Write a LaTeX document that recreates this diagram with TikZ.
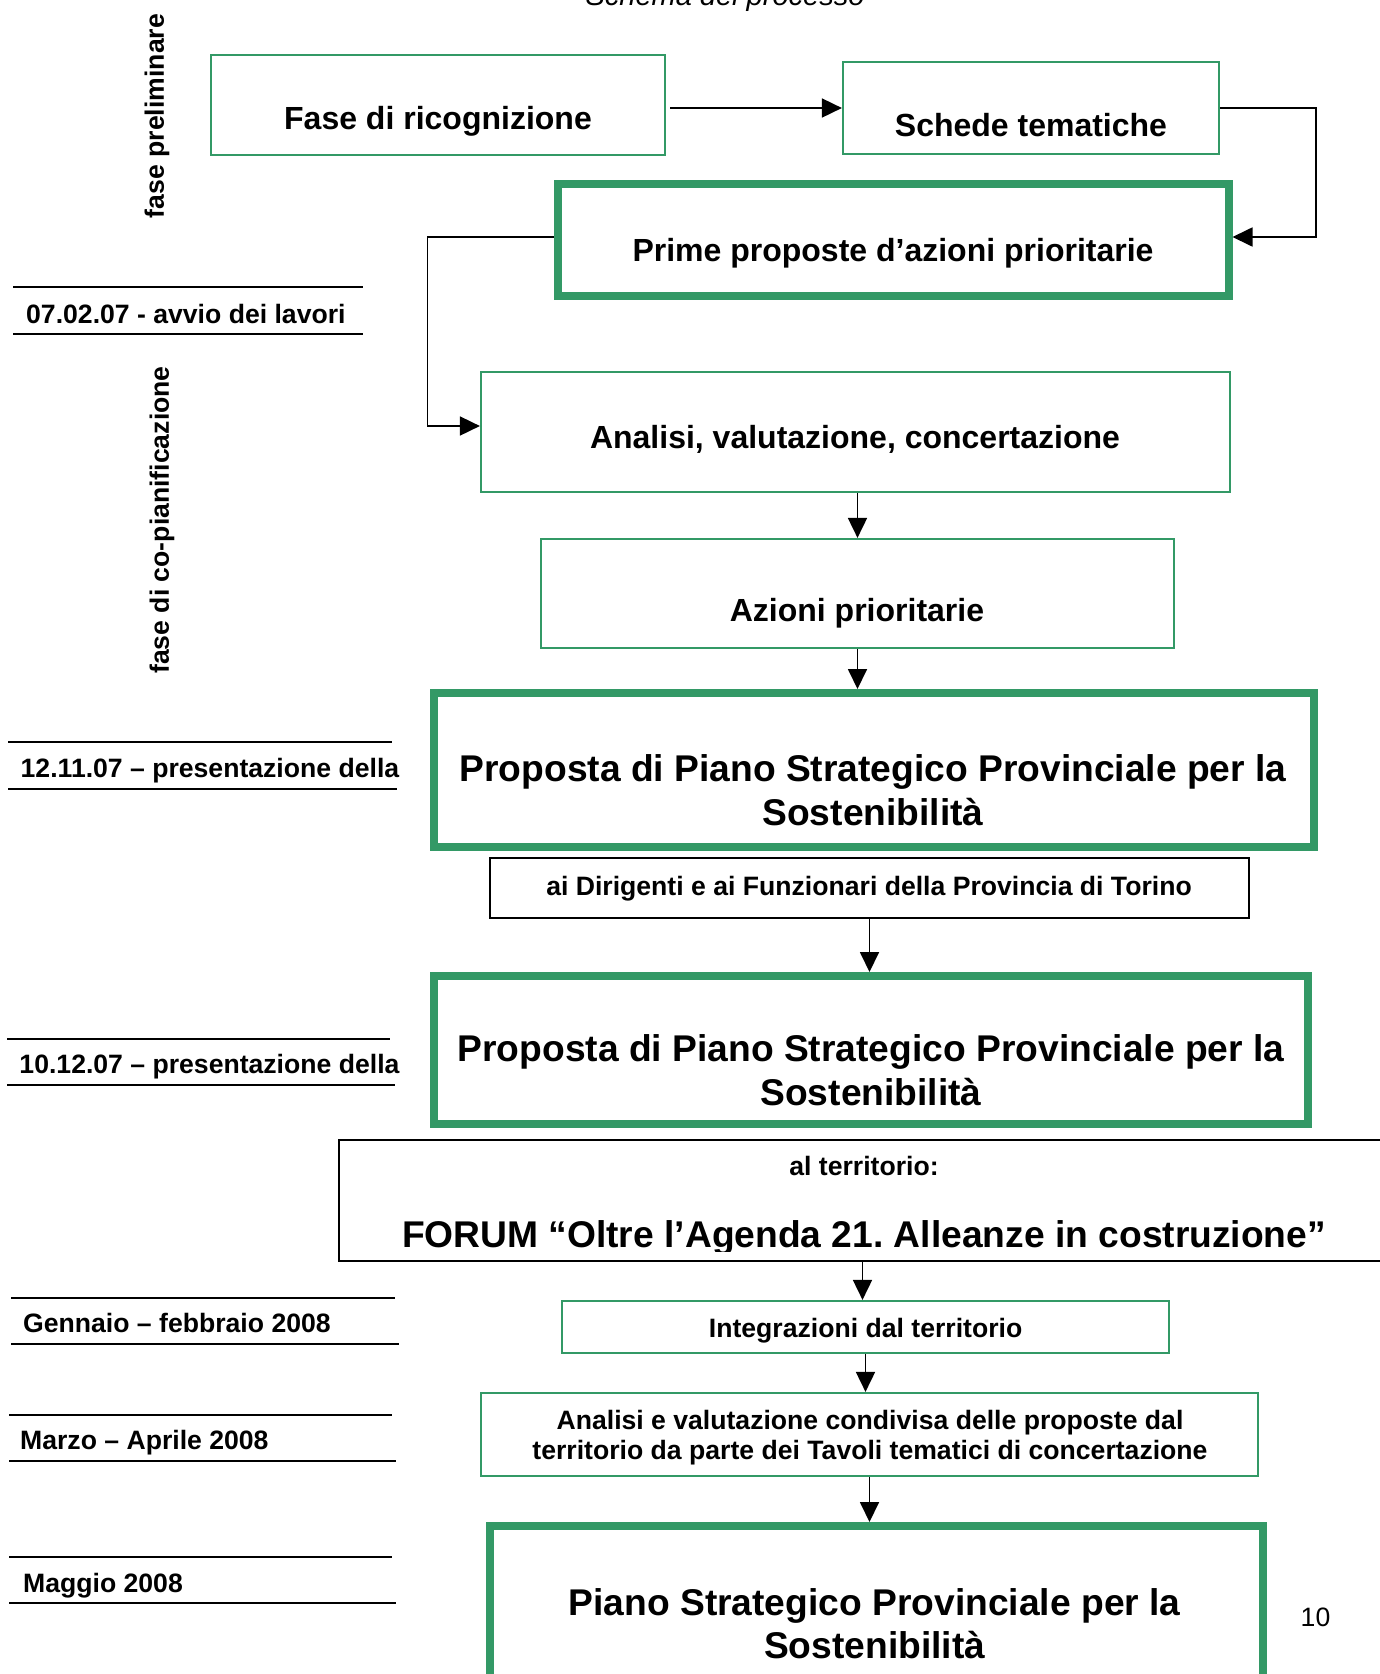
\documentclass[tikz,border=0pt]{standalone}
\usepackage{fontspec}
\setmainfont{Liberation Sans}
\usepackage{tikz}
\usetikzlibrary{arrows.meta}
\definecolor{verde}{RGB}{51,153,102}
\frenchspacing

\begin{document}
\begin{tikzpicture}[>={Triangle[length=20pt,width=19pt]},x=1pt,y=-1pt,
    gbox/.style={draw=verde,line width=2.2pt,inner sep=0pt},
    gthick/.style={draw=verde,line width=8pt,inner sep=0pt},
    kbox/.style={draw=black,line width=2pt,inner sep=0pt},
    conn/.style={->,line width=1.8pt},
    rule/.style={line width=2pt},
    tmed/.style={font=\fontsize{32}{38}\selectfont\bfseries,inner sep=0pt,anchor=base},
    tbig/.style={font=\fontsize{37.2}{43.5}\selectfont\bfseries,inner sep=0pt,align=center},
    tsmall/.style={font=\fontsize{26.6}{30}\selectfont\bfseries,inner sep=0pt}]
        \fill[white](0,0)rectangle(1380,1674);
        \useasboundingbox(0,0)rectangle(1380,1674);
        \node[font=\fontsize{29}{34}\selectfont\itshape,inner sep=0pt,anchor=base](titolo)at(725,5){Schema del processo};
        % fasi
        \node[tsmall,rotate=90](fpre)at(157,116){fase preliminare};
        \node[tsmall,rotate=90](fcop)at(162,520){fase di co-pianificazione};
        % date a sinistra
        \foreach \ya/\yb/\xl/\xa/\xb/\xt/\yt/\testo [count=\i] in {
            287/334/13/363/363/26/323/{07.02.07 - avvio dei lavori},
            742/788.5/8/392/397/20.5/777/{12.11.07 – presentazione della},
            1039/1085/7/390/395/19.3/1073.5/{10.12.07 – presentazione della},
            1298/1344/11/395/399/23/1332/{Gennaio – febbraio 2008},
            1415/1461/9/392/396/20/1449/{Marzo – Aprile 2008},
            1557/1603/9/392/396/23/1592/{Maggio 2008}}{
            \draw[rule](\xl,\ya)--(\xa,\ya);
            \draw[rule](\xl,\yb)--(\xb,\yb);
            \node[tsmall,anchor=base west](data\i)at(\xt,\yt){\testo};
        }
        % caselle
        \node[gbox,minimum width=454,minimum height=100](ricogn)at(438,105){};
        \node[tmed](ricogn-t)at(438,129.5){Fase di ricognizione};
        \node[gbox,minimum width=376,minimum height=92](schede)at(1031,108){};
        \node[tmed](schede-t)at(1031,136){Schede tematiche};
        \node[gthick,minimum width=671,minimum height=112](prime)at(893,240){};
        \node[tmed](prime-t)at(893,261){Prime proposte d’azioni prioritarie};
        \node[gbox,minimum width=749,minimum height=120](analisi)at(855.5,432){};
        \node[tmed](analisi-t)at(855,448){Analisi, valutazione, concertazione};
        \node[gbox,minimum width=633,minimum height=109](azioni)at(857.5,593.5){};
        \node[tmed](azioni-t)at(857,621){Azioni prioritarie};
        \node[gthick,minimum width=880,minimum height=154](prop1)at(874,770){};
        \node[tbig](prop1-t)at(873,790){Proposta di Piano Strategico Provinciale per la\\Sostenibilità};
        \node[kbox,minimum width=759,minimum height=60](dirig)at(869.5,888){};
        \node[tsmall,anchor=base](dirig-t)at(869,895.6){ai Dirigenti e ai Funzionari della Provincia di Torino};
        \node[gthick,minimum width=874,minimum height=148](prop2)at(871,1050){};
        \node[tbig](prop2-t)at(871,1070){Proposta di Piano Strategico Provinciale per la\\Sostenibilità};
        \node[kbox,minimum width=1061,minimum height=121](forum)at(869.5,1200.5){};
        \node[tsmall,anchor=base](forum-a)at(864,1175){al territorio:};
        \begin{scope}
            \clip(339,1141)rectangle(1380,1251);
            \node[tbig,anchor=base](forum-b)at(864,1247){FORUM “Oltre l’Agenda 21. Alleanze in costruzione”};
        \end{scope}
        \node[gbox,minimum width=607,minimum height=52](integr)at(865.5,1327){};
        \node[tsmall,anchor=base](integr-t)at(865.6,1337.6){Integrazioni dal territorio};
        \node[gbox,minimum width=777,minimum height=83](valcond)at(869.5,1434.5){};
        \node[tsmall,align=center](valcond-t)at(870,1437.7){Analisi e valutazione condivisa delle proposte dal\\territorio da parte dei Tavoli tematici di concertazione};
        \node[gthick,minimum width=773,minimum height=164](piano)at(876,1608){};
        \node[tbig](piano-t)at(874.6,1623.6){Piano Strategico Provinciale per la\\Sostenibilità};
        \node[font=\fontsize{26.6}{30}\selectfont,inner sep=0pt,anchor=base](pagina)at(1315.5,1626){10};
        % frecce
        \draw[conn]([xshift=4pt]ricogn.east|-schede.west)--(schede.west);
        \draw[conn](schede.east)--++(96,0)|-([yshift=3pt]prime.east);
        \draw[conn]([yshift=3pt]prime.west)--++(-126,0)|-([yshift=6pt]analisi.west);
        \draw[conn](azioni.north|-analisi.south)--(azioni.north);
        \draw[conn](azioni.south)--(azioni.south|-prop1.north);
        \draw[conn](dirig.south)--(dirig.south|-prop2.north);
        \draw[conn]([xshift=-3pt]integr.north|-forum.south)--([xshift=-3pt]integr.north);
        \draw[conn](integr.south)--(integr.south|-valcond.north);
        \draw[conn](valcond.south)--(valcond.south|-piano.north);
    \end{tikzpicture}
\end{document}
